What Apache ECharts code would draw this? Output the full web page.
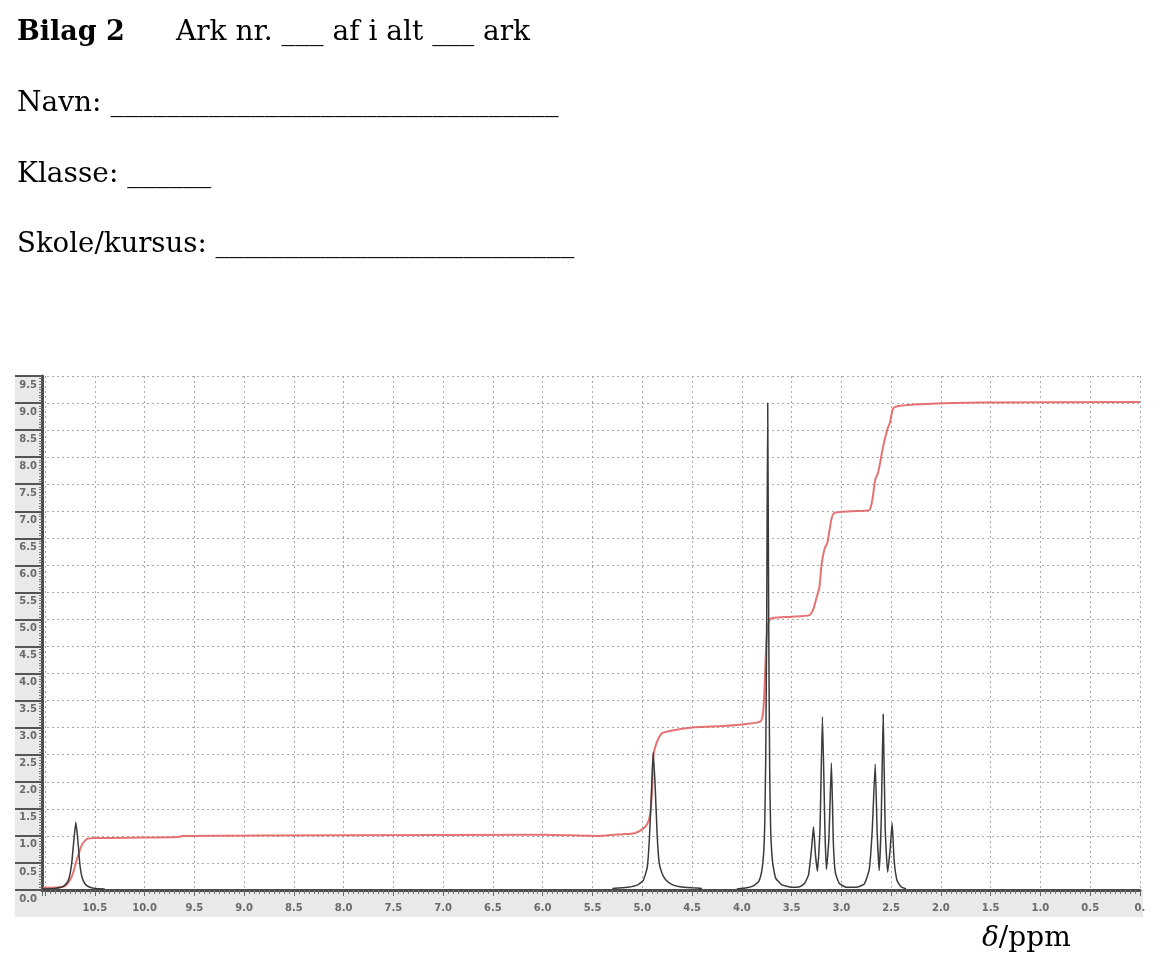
<!DOCTYPE html>
<html>
<head>
<meta charset="utf-8">
<script src="https://cdn.jsdelivr.net/npm/echarts@6/dist/echarts.min.js"></script>
<style>
html,body{margin:0;padding:0;background:#fff;}
#chart{width:1167px;height:973px;}
</style>
</head>
<body>
<div id="chart"></div>
<script>
// ---- data ----
// x ticks (ppm), y ticks (integral / intensity)
var xTickLabels = ['0.','0.5','1.0','1.5','2.0','2.5','3.0','3.5','4.0','4.5','5.0','5.5','6.0','6.5','7.0','7.5','8.0','8.5','9.0','9.5','10.0','10.5',''];
var yTickLabels = ['0.0','0.5','1.0','1.5','2.0','2.5','3.0','3.5','4.0','4.5','5.0','5.5','6.0','6.5','7.0','7.5','8.0','8.5','9.0','9.5'];

// spectrum (black), three recorded regions: [ppm, intensity]
var spectrumCOOH = [
  [11.02,0.02],[10.9,0.03],[10.84,0.05],[10.8,0.09],[10.77,0.16],[10.75,0.28],[10.73,0.52],[10.71,0.92],
  [10.69,1.25],[10.67,0.92],[10.65,0.48],[10.63,0.25],[10.6,0.12],[10.56,0.06],[10.5,0.03],[10.4,0.02]
];
var spectrumOH = [
  [5.3,0.03],[5.15,0.05],[5.05,0.09],[4.99,0.18],[4.95,0.42],[4.93,0.9],[4.91,1.7],[4.89,2.55],
  [4.87,1.9],[4.85,1.0],[4.83,0.5],[4.8,0.3],[4.76,0.18],[4.7,0.1],[4.62,0.06],[4.5,0.04],[4.4,0.03]
];
var spectrumCH = [
  [4.05,0.02],[3.95,0.04],[3.88,0.08],[3.83,0.16],[3.80,0.35],[3.78,0.7],[3.77,1.2],[3.76,2.4],[3.75,5.0],
  [3.74,9.0],[3.73,5.0],[3.72,2.2],[3.71,1.1],[3.69,0.5],[3.66,0.22],[3.6,0.1],[3.5,0.05],
  [3.42,0.06],[3.37,0.12],[3.33,0.28],[3.30,0.75],[3.28,1.17],[3.26,0.65],[3.24,0.35],[3.215,1.1],
  [3.19,3.2],[3.165,1.1],[3.15,0.38],[3.125,0.95],[3.10,2.35],[3.08,0.85],[3.06,0.32],[3.02,0.12],
  [2.95,0.05],[2.85,0.05],[2.77,0.11],[2.72,0.38],[2.69,1.1],[2.66,2.33],[2.64,1.05],[2.62,0.36],
  [2.60,1.25],[2.58,3.25],[2.56,1.15],[2.535,0.33],[2.51,0.75],[2.49,1.24],[2.47,0.55],[2.44,0.17],
  [2.40,0.06],[2.35,0.02]
];

// integral curve (red): [ppm, integral]
var integralCurve = [
  [11.02,0.04],[10.85,0.05],[10.8,0.07],[10.75,0.18],[10.72,0.3],[10.69,0.5],[10.67,0.62],
  [10.63,0.83],[10.58,0.94],[10.5,0.96],[10.0,0.97],[9.66,0.98],[9.62,1.0],[8.0,1.01],
  [6.0,1.02],[5.43,1.0],[5.2,1.03],[5.08,1.05],[5.0,1.12],[4.95,1.22],[4.92,1.4],[4.90,1.9],[4.89,2.45],
  [4.86,2.7],[4.80,2.9],[4.6,2.98],[4.52,3.0],[4.2,3.03],[3.95,3.07],[3.81,3.12],[3.785,3.3],
  [3.77,3.8],[3.76,4.3],[3.745,4.8],[3.72,5.0],[3.68,5.03],[3.5,5.05],[3.32,5.08],[3.28,5.2],
  [3.25,5.4],[3.22,5.6],[3.2,6.0],[3.17,6.3],[3.14,6.42],[3.10,6.85],[3.07,6.97],[2.9,7.0],
  [2.72,7.02],[2.69,7.2],[2.66,7.58],[2.63,7.72],[2.58,8.2],[2.54,8.5],[2.51,8.65],[2.48,8.9],
  [2.41,8.95],[2.2,8.98],[1.6,9.01],[0.0,9.02]
];

var chart = echarts.init(document.getElementById('chart'));

var serif = '"DejaVu Serif", serif';
var labelFont = 'DejaVu Sans';

function tickLabelX(v) {
  var i = Math.round(v / 0.5);
  return xTickLabels[i] !== undefined ? xTickLabels[i] : '';
}
function tickLabelY(v) {
  var i = Math.round(v / 0.5);
  return yTickLabels[i] !== undefined ? yTickLabels[i] : '';
}

var option = {
  animation: false,
  backgroundColor: '#ffffff',
  grid: {
    left: 42, right: 27, top: 376, bottom: 83,
    show: true, backgroundColor: '#ffffff', borderWidth: 0
  },
  graphic: [
    { type: 'rect', z: -10, shape: { x: 15, y: 376, width: 27, height: 541 }, style: { fill: '#e9e9e9' }, silent: true },
    { type: 'rect', z: -10, shape: { x: 42, y: 890, width: 1101, height: 27 }, style: { fill: '#e9e9e9' }, silent: true },
    { type: 'text', x: 17, y: 19, style: { text: 'Bilag 2', font: 'bold 27px ' + serif, fill: '#000' } },
    { type: 'text', x: 176, y: 19, style: { text: 'Ark nr. ___ af i alt ___ ark', font: '28px ' + serif, fill: '#000' } },
    { type: 'text', x: 17, y: 90, style: { text: 'Navn: ________________________________', font: '28px ' + serif, fill: '#000' } },
    { type: 'text', x: 17, y: 161, style: { text: 'Klasse: ______', font: '28px ' + serif, fill: '#000' } },
    { type: 'text', x: 17, y: 231, style: { text: 'Skole/kursus: __________________________', font: '27.6px ' + serif, fill: '#000' } },
    { type: 'text', x: 982, y: 925, style: {
        text: '{i|δ}/ppm', font: '28px ' + serif, fill: '#000',
        rich: { i: { fontStyle: 'italic', fontFamily: 'DejaVu Serif', fontSize: 28, fill: '#000' } }
      } }
  ],
  xAxis: {
    type: 'value', inverse: true, min: 0, max: 11.03, interval: 0.5,
    axisLine: { show: true, onZero: false, lineStyle: { color: '#4d4d4d', width: 3 } },
    axisTick: { show: true, length: 6, lineStyle: { color: '#666', width: 1 } },
    minorTick: { show: true, splitNumber: 10, length: 4, lineStyle: { color: '#777', width: 1 } },
    axisLabel: { margin: 13, fontFamily: labelFont, fontSize: 10, color: '#6a6a6a', fontWeight: 'bold', formatter: tickLabelX, showMaxLabel: true, showMinLabel: true },
    splitLine: { show: true, lineStyle: { color: '#a8a8a8', width: 1, type: [2, 3] } }
  },
  yAxis: {
    type: 'value', min: 0, max: 9.5, interval: 0.5,
    axisLine: { show: true, onZero: false, lineStyle: { color: '#4d4d4d', width: 3 } },
    axisTick: { show: true, length: 27, lineStyle: { color: '#555', width: 2 } },
    minorTick: { show: true, splitNumber: 10, length: 3, lineStyle: { color: '#777', width: 1 } },
    axisLabel: { margin: 5, fontFamily: labelFont, fontSize: 10, color: '#6a6a6a', fontWeight: 'bold', verticalAlign: 'top', padding: [4, 0, 0, 0], formatter: tickLabelY },
    splitLine: { show: true, lineStyle: { color: '#a8a8a8', width: 1, type: [2, 3] } }
  },
  series: [
    { name: 'integral', type: 'line', data: integralCurve, showSymbol: false, smooth: 0.2,
      lineStyle: { color: '#e36464', width: 2, opacity: 0.9 }, z: 3 },
    { name: 'spec1', type: 'line', data: spectrumCOOH, showSymbol: false, smooth: 0.15,
      lineStyle: { color: '#3a3a3a', width: 1.5 }, z: 4 },
    { name: 'spec2', type: 'line', data: spectrumOH, showSymbol: false, smooth: 0.15,
      lineStyle: { color: '#3a3a3a', width: 1.5 }, z: 4 },
    { name: 'spec3', type: 'line', data: spectrumCH, showSymbol: false, smooth: 0.15,
      lineStyle: { color: '#3a3a3a', width: 1.5 }, z: 4 }
  ]
};
chart.setOption(option);
</script>
</body>
</html>
